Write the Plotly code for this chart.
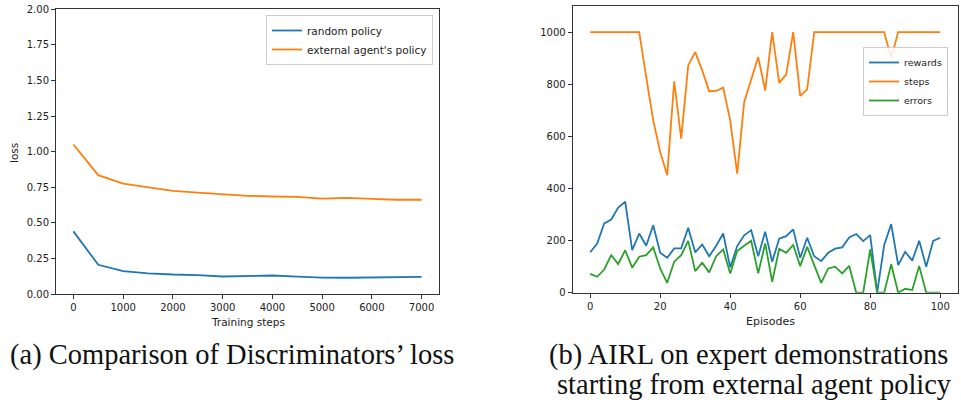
import plotly.graph_objects as go

W, H = 961, 400

# ---------------- data: left chart ----------------
train_steps = [0, 500, 1000, 1500, 2000, 2500, 3000, 3500, 4000, 4500, 5000, 5500, 6000, 6500, 7000]
loss_random = [0.44, 0.205, 0.16, 0.145, 0.137, 0.133, 0.123, 0.125, 0.13, 0.122, 0.115, 0.114, 0.115, 0.115, 0.12]
loss_external = [1.05, 0.835, 0.775, 0.75, 0.725, 0.712, 0.70, 0.69, 0.685, 0.682, 0.67, 0.675, 0.668, 0.662, 0.662]

# ---------------- data: right chart ----------------
episodes = list(range(0, 101, 2))
rewards = [155, 189, 266, 281, 327, 349, 163, 227, 180, 259,
           153, 134, 170, 170, 249, 155, 185, 140, 180, 227,
           97, 179, 220, 240, 140, 234, 119, 207, 217, 243,
           134, 211, 140, 121, 153, 169, 174, 212, 225, 198,
           221, 1, 183, 263, 106, 157, 123, 199, 100, 199,
           211]
steps = [1000, 1000, 1000, 1000, 1000, 1000, 1000, 1000, 828, 661,
         540, 451, 811, 591, 872, 923, 853, 773, 774, 787,
         661, 457, 732, 815, 904, 776, 1000, 805, 838, 1000,
         755, 780, 1000, 1000, 1000, 1000, 1000, 1000, 1000, 1000,
         1000, 1000, 1000, 900, 1000, 1000, 1000, 1000, 1000, 1000,
         1000]
errors = [72, 61, 89, 144, 110, 163, 96, 138, 144, 174,
          93, 38, 119, 144, 199, 83, 115, 78, 140, 166,
          74, 160, 180, 199, 74, 189, 42, 168, 153, 183,
          102, 176, 106, 38, 93, 100, 74, 103, 0, 0,
          166, 0, 0, 109, 0, 15, 10, 102, 0, 0,
          0]

left_xticks = [0, 1000, 2000, 3000, 4000, 5000, 6000, 7000]
left_yticks = [0, 0.25, 0.5, 0.75, 1.0, 1.25, 1.5, 1.75, 2.0]
right_xticks = [0, 20, 40, 60, 80, 100]
right_yticks = [0, 200, 400, 600, 800, 1000]

BLUE, ORANGE, GREEN = "#1f77b4", "#ff7f0e", "#2ca02c"
LW = 1.8

fig = go.Figure()
fig.add_trace(go.Scatter(x=train_steps, y=loss_random, mode="lines", name="random policy",
                         line=dict(color=BLUE, width=LW), xaxis="x", yaxis="y", legend="legend"))
fig.add_trace(go.Scatter(x=train_steps, y=loss_external, mode="lines", name="external agent's policy",
                         line=dict(color=ORANGE, width=LW), xaxis="x", yaxis="y", legend="legend"))
fig.add_trace(go.Scatter(x=episodes, y=rewards, mode="lines", name="rewards",
                         line=dict(color=BLUE, width=LW), xaxis="x2", yaxis="y2", legend="legend2"))
fig.add_trace(go.Scatter(x=episodes, y=steps, mode="lines", name="steps",
                         line=dict(color=ORANGE, width=LW), xaxis="x2", yaxis="y2", legend="legend2"))
fig.add_trace(go.Scatter(x=episodes, y=errors, mode="lines", name="errors",
                         line=dict(color=GREEN, width=LW), xaxis="x2", yaxis="y2", legend="legend2"))

def px_x(p):
    return p / W

def px_y(p):
    return 1 - p / H

axis_common = dict(showline=True, mirror=True, linecolor="#333", linewidth=1,
                   ticks="outside", ticklen=4, tickcolor="#333", tickwidth=1,
                   showgrid=False, zeroline=False, automargin=False,
                   tickfont=dict(family="DejaVu Sans", size=10, color="#222"))

fig.update_layout(
    width=W, height=H,
    margin=dict(l=0, r=0, t=0, b=0, pad=0, autoexpand=False),
    paper_bgcolor="white", plot_bgcolor="white",
    xaxis=dict(domain=[px_x(56), px_x(439)], range=[-350, 7350],
               tickvals=left_xticks, anchor="y", **axis_common),
    yaxis=dict(domain=[px_y(294), px_y(9.3)], range=[0, 2],
               tickvals=left_yticks, tickformat=".2f", anchor="x", **axis_common),
    xaxis2=dict(domain=[px_x(572.7), px_x(957.7)], range=[-5, 105],
                tickvals=right_xticks, anchor="y2", **axis_common),
    yaxis2=dict(domain=[px_y(292.7), px_y(6)], range=[0, 1100],
                tickvals=right_yticks, anchor="x2", **axis_common),
    legend=dict(x=px_x(433), y=px_y(15), xanchor="right", yanchor="top",
                bgcolor="rgba(255,255,255,0.85)", bordercolor="#ccc", borderwidth=1,
                font=dict(family="DejaVu Sans", size=10.5, color="#222"),
                itemwidth=30, tracegroupgap=0),
    legend2=dict(x=px_x(948), y=px_y(47), xanchor="right", yanchor="top",
                 bgcolor="rgba(255,255,255,0.85)", bordercolor="#ccc", borderwidth=1,
                 font=dict(family="DejaVu Sans", size=9.5, color="#222"),
                 itemwidth=30, tracegroupgap=0),
    showlegend=True,
)

ann_font = dict(family="DejaVu Sans", size=10.5, color="#222")
cap_font = dict(family="Liberation Serif", size=28.5, color="#111")
fig.add_annotation(text="loss", x=px_x(14), y=px_y(153), xref="paper", yref="paper",
                   textangle=-90, showarrow=False, font=ann_font, xanchor="center", yanchor="middle")
fig.add_annotation(text="Training steps", x=px_x(248), y=px_y(322), xref="paper", yref="paper",
                   showarrow=False, font=ann_font, xanchor="center", yanchor="middle")
fig.add_annotation(text="Episodes", x=px_x(770), y=px_y(321), xref="paper", yref="paper",
                   showarrow=False, font=dict(family="DejaVu Sans", size=11, color="#222"),
                   xanchor="center", yanchor="middle")
fig.add_annotation(text="(a) Comparison of Discriminators’ loss", x=px_x(8), y=px_y(355),
                   xref="paper", yref="paper", showarrow=False, font=cap_font,
                   xanchor="left", yanchor="middle")
fig.add_annotation(text="(b) AIRL on expert demonstrations", x=px_x(547), y=px_y(355),
                   xref="paper", yref="paper", showarrow=False, font=cap_font,
                   xanchor="left", yanchor="middle")
fig.add_annotation(text="starting from external agent policy", x=px_x(754), y=px_y(384),
                   xref="paper", yref="paper", showarrow=False, font=cap_font,
                   xanchor="center", yanchor="middle")

fig.write_html("out.html", config={"displayModeBar": False},
               post_script="document.body.style.margin='0px';document.body.style.overflow='hidden';")
